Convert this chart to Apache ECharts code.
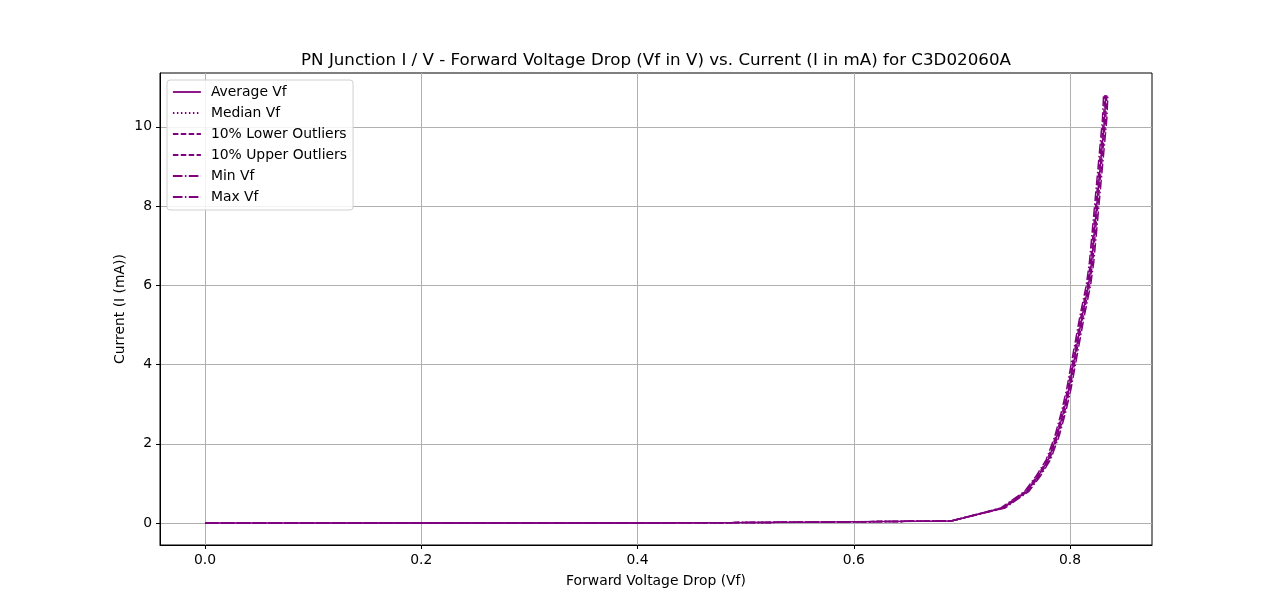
<!DOCTYPE html>
<html>
<head>
<meta charset="utf-8">
<script src="https://cdn.jsdelivr.net/npm/echarts@6/dist/echarts.min.js"></script>
<style>html,body{margin:0;padding:0;background:#fff}#c{width:1280px;height:612px}</style>
</head>
<body>
<div id="c"></div>
<script>
const titleText = "PN Junction I / V - Forward Voltage Drop (Vf in V) vs. Current (I in mA) for C3D02060A";
const seriesNames = ["Average Vf", "Median Vf", "10% Lower Outliers", "10% Upper Outliers", "Min Vf", "Max Vf"];
const currentMA = [0, 0, 0, 0, 0, 0.01, 0.02, 0.03, 0.05, 0.38, 0.8, 1.2, 1.6, 2.2, 2.8, 3.4, 4.0, 4.6, 5.2, 5.6, 6.0, 6.6, 7.2, 7.8, 8.4, 9.0, 9.6, 10.2, 10.8];
const avgVf    = [0, 0.1, 0.2, 0.3, 0.4, 0.5, 0.55, 0.6, 0.69, 0.738, 0.760, 0.771, 0.780, 0.788, 0.794, 0.799, 0.803, 0.807, 0.811, 0.814, 0.817, 0.820, 0.822, 0.824, 0.826, 0.828, 0.830, 0.832, 0.833];
const medianVf = [0, 0.1, 0.2, 0.3, 0.4, 0.5, 0.55, 0.6, 0.69, 0.738, 0.760, 0.771, 0.780, 0.788, 0.794, 0.799, 0.803, 0.807, 0.811, 0.814, 0.817, 0.820, 0.822, 0.824, 0.826, 0.828, 0.830, 0.832, 0.833];
const lowerVf  = [0, 0.1, 0.2, 0.3, 0.4, 0.5, 0.55, 0.6, 0.69, 0.737, 0.759, 0.770, 0.779, 0.787, 0.793, 0.798, 0.802, 0.806, 0.810, 0.813, 0.816, 0.819, 0.821, 0.823, 0.825, 0.827, 0.829, 0.831, 0.832];
const upperVf  = [0, 0.1, 0.2, 0.3, 0.4, 0.5, 0.55, 0.6, 0.69, 0.739, 0.761, 0.772, 0.781, 0.789, 0.795, 0.800, 0.804, 0.808, 0.812, 0.815, 0.818, 0.821, 0.823, 0.825, 0.827, 0.829, 0.831, 0.833, 0.834];
const minVf    = [0, 0.1, 0.2, 0.3, 0.4, 0.5, 0.55, 0.6, 0.69, 0.736, 0.758, 0.769, 0.778, 0.786, 0.792, 0.797, 0.801, 0.805, 0.809, 0.812, 0.815, 0.818, 0.820, 0.822, 0.824, 0.826, 0.828, 0.830, 0.831];
const maxVf    = [0, 0.1, 0.2, 0.3, 0.4, 0.5, 0.55, 0.6, 0.69, 0.740, 0.762, 0.773, 0.782, 0.790, 0.796, 0.801, 0.805, 0.809, 0.813, 0.816, 0.819, 0.822, 0.824, 0.826, 0.828, 0.830, 0.832, 0.834, 0.835];
const xTicks = [0, 0.2, 0.4, 0.6, 0.8];
const yTicks = [0, 2, 4, 6, 8, 10];

const vfSets = [avgVf, medianVf, lowerVf, upperVf, minVf, maxVf];
const dashes = ['solid', [1.5, 2.5], [5.5, 2.4], [5.5, 2.4], [9.6, 2.4, 1.5, 2.4], [9.6, 2.4, 1.5, 2.4]];
const purple = '#800080';
const font = 'DejaVu Sans';

const series = seriesNames.map((name, i) => ({
  name: name,
  type: 'line',
  symbol: 'none',
  animation: false,
  data: vfSets[i].map((v, k) => [v, currentMA[k]]),
  lineStyle: { color: purple, width: 1.5, type: dashes[i] },
  itemStyle: { color: purple }
}));

const chart = echarts.init(document.getElementById('c'));
chart.setOption({
  animation: false,
  backgroundColor: '#fff',
  title: {
    text: titleText, left: 651, top: 47, textAlign: 'center',
    textStyle: { fontFamily: font, fontSize: 16.7, fontWeight: 'normal', color: '#000' }
  },
  grid: { left: 160, right: 128, top: 73, bottom: 67, show: true, borderColor: '#000', borderWidth: 1, containLabel: false },
  legend: {
    orient: 'vertical', left: 167, top: 80, padding: [5, 6, 6, 5],
    itemWidth: 28, itemHeight: 14, itemGap: 7,
    borderColor: '#d0d0d0', borderWidth: 1, borderRadius: 3, backgroundColor: 'rgba(255,255,255,0.85)',
    textStyle: { fontFamily: font, fontSize: 13.9, color: '#000', padding: [0, 0, 0, 5] },
    itemStyle: { color: 'rgba(0,0,0,0)', borderWidth: 0, opacity: 0 },
    lineStyle: { width: 1.8 },
    data: seriesNames
  },
  xAxis: {
    type: 'value', min: -0.0416, max: 0.8758,
    name: 'Forward Voltage Drop (Vf)', nameLocation: 'middle', nameGap: 29, nameMoveOverlap: false,
    nameTextStyle: { fontFamily: font, fontSize: 13.9, color: '#000' },
    axisLine: { onZero: false, lineStyle: { color: '#000' } },
    axisTick: { show: true, length: 4, lineStyle: { color: '#000' }, customValues: xTicks },
    axisLabel: { fontFamily: font, fontSize: 13.9, color: '#000', margin: 8, customValues: xTicks, formatter: v => v.toFixed(1) },
    splitLine: { show: true, lineStyle: { color: '#b0b0b0', width: 1 } }
  },
  yAxis: {
    type: 'value', min: -0.556, max: 11.36,
    name: 'Current (I (mA))', nameLocation: 'middle', nameGap: 33, nameRotate: 90, nameMoveOverlap: false,
    nameTextStyle: { fontFamily: font, fontSize: 13.9, color: '#000' },
    axisLine: { show: true, onZero: false, lineStyle: { color: '#000' } },
    axisTick: { show: true, length: 4, lineStyle: { color: '#000' }, customValues: yTicks },
    axisLabel: { fontFamily: font, fontSize: 13.9, color: '#000', margin: 8, padding: [4, 0, 0, 0], customValues: yTicks, formatter: v => String(v) },
    splitLine: { show: true, lineStyle: { color: '#b0b0b0', width: 1 } }
  },
  series: series
});
</script>
</body>
</html>
